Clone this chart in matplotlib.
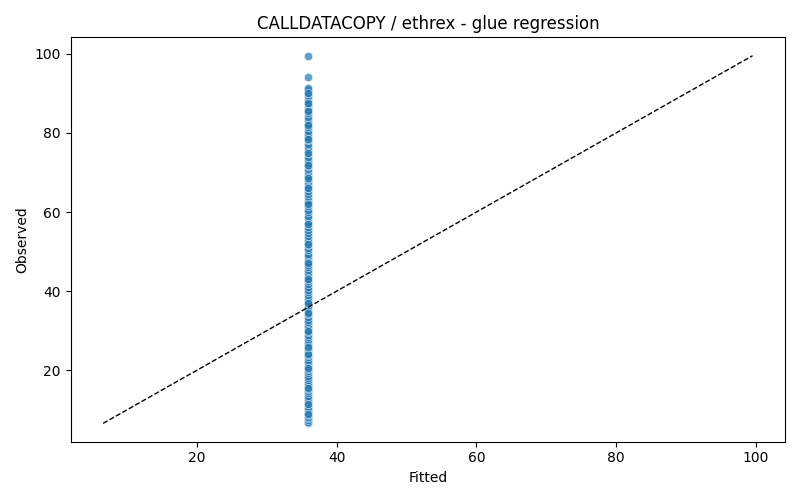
import matplotlib.pyplot as plt
import seaborn as sns
import numpy as np

fitted_value = 35.9
observed = [
    6.6, 7.0, 7.4, 7.9, 8.3, 8.8, 9.3, 9.7, 10.2, 10.8, 11.4, 11.9, 12.5, 13.1,
    13.6, 14.2, 14.8, 15.3, 15.8, 16.3, 16.9, 17.5, 18.1, 18.6, 19.2, 19.8,
    20.4, 21.0, 21.5, 22.1, 22.7, 23.3, 23.9, 24.5, 25.1, 25.7, 26.4, 27.0,
    27.6, 28.3, 28.9, 29.6, 30.2, 30.9, 31.5, 32.2, 32.8, 33.5, 34.2, 34.8,
    35.5, 36.2, 36.9, 37.6, 38.3, 39.0, 39.7, 40.4, 41.1, 41.8, 42.5, 43.2,
    43.9, 44.6, 45.3, 46.0, 46.7, 47.4, 48.1, 48.8, 49.5, 50.3, 51.0, 51.7,
    52.4, 53.1, 53.9, 54.6, 55.4, 56.1, 56.9, 57.6, 58.4, 59.1, 59.9, 60.6,
    61.4, 62.2, 62.9, 63.7, 64.5, 65.3, 66.0, 66.8, 67.6, 68.4, 69.2, 70.0,
    70.8, 71.6, 72.4, 73.2, 74.0, 74.8, 75.6, 76.5, 77.3, 78.1, 79.0, 79.8,
    80.6, 81.5, 82.3, 83.2, 84.0, 84.9, 85.7, 86.6, 87.4, 88.3, 89.2, 90.1,
    90.9, 91.3, 94.2, 99.5,
    # repeated values (darker overlapping spots)
    9.0, 11.5, 15.5, 20.5, 24.0, 26.0, 30.0, 34.5, 37.0, 43.0, 47.0, 52.0,
    57.0, 62.0, 66.0, 68.5, 72.0, 75.0, 78.5, 82.0, 85.5, 87.5, 90.0,
]
fitted = [fitted_value] * len(observed)

fig, ax = plt.subplots(figsize=(8, 5), dpi=100)
sns.scatterplot(x=fitted, y=observed, alpha=0.7, ax=ax)

lo = min(observed)
hi = max(observed)
ax.plot([lo, hi], [lo, hi], 'k--', linewidth=1)

ax.set_title("CALLDATACOPY / ethrex - glue regression")
ax.set_xlabel("Fitted")
ax.set_ylabel("Observed")

plt.tight_layout()
plt.savefig("out.png")
